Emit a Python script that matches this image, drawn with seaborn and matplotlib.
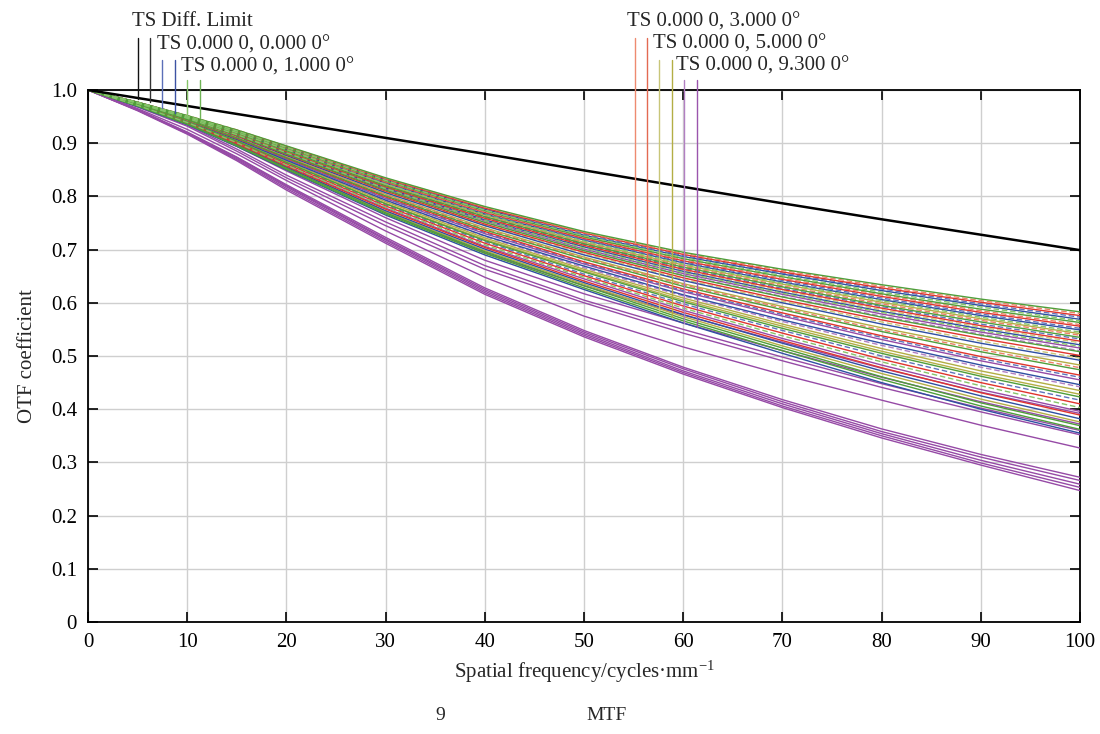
import matplotlib
matplotlib.use("Agg")
import matplotlib.pyplot as plt
import seaborn as sns
import pandas as pd

# ---------------- data ----------------
freq = [0, 5, 10, 15, 20, 30, 40, 50, 60, 70, 80, 90, 100]
diff_limit = [1.0, 0.985, 0.970, 0.955, 0.940, 0.910, 0.880, 0.849, 0.818, 0.787, 0.757, 0.728, 0.699]

# field 0.0 deg (blue)
field0_T = [
    [1, .977, .951, .923, .892, .831, .776, .727, .687, .654, .623, .595, .569],
    [1, .976, .949, .920, .888, .825, .767, .718, .675, .639, .606, .576, .549],
    [1, .975, .947, .917, .883, .816, .756, .705, .659, .620, .584, .551, .521],
    [1, .974, .945, .913, .877, .807, .745, .690, .642, .600, .560, .524, .492],
    [1, .973, .942, .907, .868, .793, .726, .669, .615, .568, .524, .483, .446],
    [1, .970, .937, .898, .855, .773, .701, .638, .578, .524, .472, .425, .382],
    [1, .969, .935, .894, .850, .765, .690, .625, .562, .505, .450, .400, .355],
]
field0_S = [
    [1, .977, .951, .924, .893, .832, .777, .729, .689, .656, .626, .598, .573],
    [1, .977, .950, .921, .889, .826, .769, .719, .677, .642, .609, .579, .552],
    [1, .976, .948, .918, .885, .819, .761, .710, .665, .627, .593, .560, .532],
    [1, .973, .943, .909, .871, .797, .732, .675, .623, .578, .535, .495, .460],
    [1, .972, .940, .903, .862, .784, .715, .654, .598, .548, .500, .456, .417],
]
# field 1.0 deg (green)
field1_T = [
    [1, .977, .952, .925, .895, .835, .781, .734, .695, .663, .634, .607, .583],
    [1, .977, .950, .922, .891, .829, .773, .724, .683, .649, .617, .588, .563],
    [1, .976, .948, .919, .886, .820, .762, .711, .667, .630, .595, .564, .535],
    [1, .975, .946, .915, .880, .812, .751, .698, .651, .611, .573, .539, .508],
    [1, .974, .944, .910, .873, .801, .737, .682, .631, .587, .546, .508, .474],
    [1, .972, .940, .904, .864, .786, .717, .658, .602, .552, .505, .462, .423],
    [1, .970, .936, .896, .853, .769, .696, .632, .570, .515, .461, .412, .369],
    [1, .970, .936, .895, .851, .767, .693, .628, .566, .510, .456, .406, .362],
]
field1_S = [
    [1, .977, .951, .923, .892, .830, .774, .726, .685, .651, .620, .592, .566],
    [1, .976, .949, .920, .888, .823, .766, .716, .673, .637, .604, .573, .545],
    [1, .975, .947, .916, .882, .815, .755, .703, .657, .618, .582, .548, .518],
    [1, .971, .939, .901, .859, .780, .709, .648, .590, .538, .489, .444, .403],
]
# field 3.0 deg (red)
field3_T = [
    [1, .977, .951, .924, .894, .833, .778, .731, .691, .658, .628, .601, .576],
    [1, .977, .950, .922, .890, .827, .770, .721, .679, .644, .612, .582, .556],
    [1, .976, .948, .918, .884, .818, .759, .708, .663, .625, .590, .557, .528],
    [1, .975, .946, .914, .879, .810, .748, .695, .647, .606, .568, .533, .501],
    [1, .973, .943, .909, .872, .799, .734, .677, .626, .581, .538, .499, .464],
    [1, .971, .939, .902, .861, .782, .712, .651, .594, .543, .494, .450, .410],
    [1, .971, .938, .899, .857, .776, .704, .641, .582, .529, .478, .431, .389],
]
field3_S = [
    [1, .977, .952, .925, .894, .834, .780, .732, .693, .661, .631, .604, .580],
    [1, .977, .950, .922, .890, .828, .771, .723, .681, .646, .615, .585, .559],
    [1, .976, .949, .919, .886, .821, .763, .713, .669, .632, .598, .567, .539],
    [1, .974, .944, .911, .874, .803, .739, .684, .634, .590, .549, .512, .478],
]
# field 5.0 deg (olive)
field5_T = [
    [1, .976, .949, .920, .887, .822, .765, .714, .671, .635, .601, .570, .542],
    [1, .974, .945, .912, .875, .804, .741, .686, .636, .593, .553, .516, .483],
    [1, .972, .941, .905, .866, .790, .722, .663, .609, .560, .514, .472, .435],
    [1, .972, .940, .904, .864, .787, .719, .660, .605, .556, .509, .466, .428],
    [1, .970, .937, .897, .854, .771, .698, .635, .574, .519, .467, .419, .376],
]
field5_S = [
    [1, .976, .948, .918, .884, .817, .758, .706, .661, .623, .587, .554, .525],
    [1, .975, .946, .914, .878, .808, .746, .693, .644, .603, .564, .528, .496],
]
# field 9.3 deg (purple)
field9_T = [
    [1, .975, .947, .916, .882, .814, .754, .701, .655, .616, .579, .545, .515],
    [1, .973, .942, .908, .870, .796, .730, .673, .621, .575, .531, .491, .455],
    [1, .971, .938, .900, .858, .778, .706, .645, .586, .533, .483, .437, .396],
    [1, .971, .939, .899, .856, .770, .694, .632, .577, .526, .477, .432, .392],
    [1, .970, .936, .894, .848, .760, .680, .617, .562, .510, .460, .414, .372],
    [1, .969, .934, .889, .840, .752, .670, .605, .550, .498, .448, .402, .360],
    [1, .968, .932, .885, .835, .745, .663, .600, .543, .491, .441, .395, .352],
    [1, .965, .926, .880, .830, .735, .648, .575, .517, .465, .417, .370, .327],
    [1, .963, .921, .874, .822, .723, .628, .548, .479, .418, .363, .315, .272],
    [1, .963, .920, .873, .820, .720, .625, .545, .476, .414, .358, .310, .266],
    [1, .962, .919, .871, .818, .718, .622, .542, .472, .410, .354, .304, .259],
    [1, .962, .918, .869, .815, .715, .619, .539, .469, .406, .350, .299, .253],
    [1, .961, .917, .867, .812, .712, .616, .536, .466, .403, .346, .295, .247],
]
field9_S = [
    [1, .975, .947, .916, .881, .813, .752, .699, .652, .612, .575, .541, .510],
    [1, .972, .941, .906, .867, .792, .725, .666, .613, .565, .520, .479, .442],
]

legend_labels = ["TS Diff. Limit", "TS 0.000 0, 0.000 0\u00b0", "TS 0.000 0, 1.000 0\u00b0",
                 "TS 0.000 0, 3.000 0\u00b0", "TS 0.000 0, 5.000 0\u00b0", "TS 0.000 0, 9.300 0\u00b0"]
xtick_vals = [0, 10, 20, 30, 40, 50, 60, 70, 80, 90, 100]
ytick_vals = [0, 0.1, 0.2, 0.3, 0.4, 0.5, 0.6, 0.7, 0.8, 0.9, 1.0]
ytick_labels = ["0", "0.1", "0.2", "0.3", "0.4", "0.5", "0.6", "0.7", "0.8", "0.9", "1.0"]

# ---------------- style ----------------
sns.set_style("ticks")
plt.rcParams["font.family"] = ["Liberation Serif", "DejaVu Serif"]
plt.rcParams["mathtext.fontset"] = "custom"
plt.rcParams["mathtext.rm"] = "Liberation Serif"
plt.rcParams["mathtext.it"] = "Liberation Serif:italic"

BLUE, BLUE_L = "#2f4fa2", "#5f74bb"
GREEN, GREEN_L = "#4f9e3a", "#86c46a"
RED, RED_L = "#e0352e", "#ec8068"
OLIVE, OLIVE_L = "#b3ae45", "#c8c679"
PURPLE, PURPLE_L = "#964aa6", "#b27fc2"
DASH = (0, (4, 2))

groups = [
    ("9T", field9_T, PURPLE, "-"),
    ("9S", field9_S, PURPLE_L, DASH),
    ("5T", field5_T, OLIVE, "-"),
    ("5S", field5_S, OLIVE_L, DASH),
    ("0T", field0_T, BLUE, "-"),
    ("0S", field0_S, BLUE_L, DASH),
    ("3T", field3_T, RED, "-"),
    ("3S", field3_S, RED_L, DASH),
    ("1T", field1_T, GREEN, "-"),
    ("1S", field1_S, GREEN_L, DASH),
]

fig = plt.figure(figsize=(11, 7.34), dpi=100)
ax = fig.add_axes([88 / 1100, 112 / 734, 992 / 1100, 532 / 734])

for gname, curves, color, ls in groups:
    rows = []
    for i, c in enumerate(curves):
        for f, v in zip(freq, c):
            rows.append({"freq": f, "mtf": v, "curve": f"{gname}_{i}"})
    df = pd.DataFrame(rows)
    sns.lineplot(data=df, x="freq", y="mtf", units="curve", estimator=None,
                 color=color, linewidth=1.0, linestyle=ls, ax=ax, legend=False, zorder=3)

sns.lineplot(x=freq, y=diff_limit, color="black", linewidth=1.8, ax=ax, zorder=4)

ax.set_xlim(0, 100)
ax.set_ylim(0, 1.0)
ax.set_xticks(xtick_vals)
ax.set_xticklabels([str(v) for v in xtick_vals])
ax.set_yticks(ytick_vals)
ax.set_yticklabels(ytick_labels)
ax.grid(True, color="#cfcfcf", linewidth=1.0, zorder=0)
ax.set_axisbelow(True)
ax.tick_params(direction="in", length=7, width=1.2, top=True, right=True,
               labelsize=15, pad=8, colors="black")
for s in ax.spines.values():
    s.set_linewidth(1.3)
    s.set_color("black")
    s.set_visible(True)

ax.set_xlabel("Spatial frequency/cycles\u00b7mm$^{\u22121}$", fontsize=15, labelpad=5)
ax.set_ylabel("OTF coefficient", fontsize=15, labelpad=10)

# ---------------- legend (Zemax style) ----------------
leg_lines = [
    # x, y_top, y_end, color
    (5.04, 1.097, 0.983, "#111111"), (6.25, 1.097, 0.978, "#333333"),
    (7.46, 1.056, 0.966, "#5b6fb8"), (8.77, 1.056, 0.956, "#3d52a3"),
    (9.98, 1.019, 0.953, "#86c46a"), (11.29, 1.019, 0.947, "#6fb356"),
    (55.1, 1.098, 0.712, "#ee8a70"), (56.35, 1.098, 0.599, "#e36a52"),
    (57.6, 1.057, 0.583, "#c8c679"), (58.9, 1.057, 0.574, "#b3ae45"),
    (60.1, 1.019, 0.562, "#b27fc2"), (61.4, 1.019, 0.555, "#9a55ad"),
]
for x, y0, y1, c in leg_lines:
    ax.plot([x, x], [y0, y1], color=c, linewidth=1.0, clip_on=False, zorder=5)

leg_pos = [(131.5, 26.5), (157.3, 49.5), (181.0, 71.5),
           (627.3, 26.5), (652.7, 49.0), (676.0, 71.0)]
for (px, py), lab in zip(leg_pos, legend_labels):
    fig.text(px / 1100, 1 - py / 734, lab, fontsize=15, ha="left", va="baseline")

# caption (only the Latin parts are visible in the source)
fig.text(440 / 1100, 1 - 720 / 734, "9", fontsize=14, ha="center", va="baseline")
fig.text(607 / 1100, 1 - 720 / 734, "MTF", fontsize=14, ha="center", va="baseline")

fig.savefig("out.png", dpi=100)
